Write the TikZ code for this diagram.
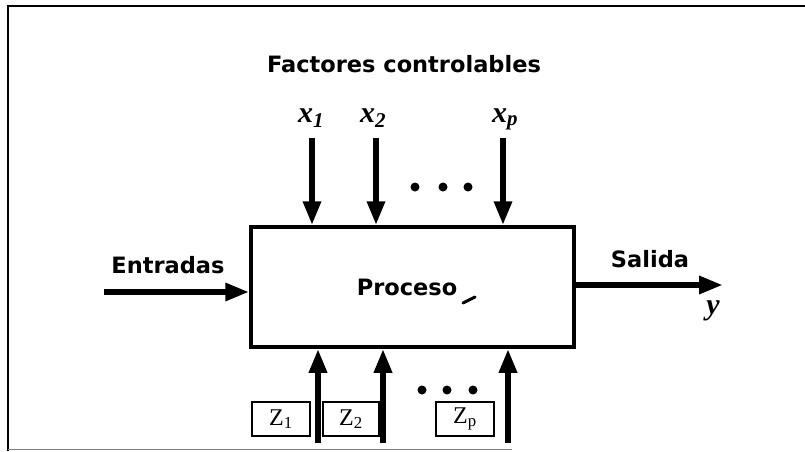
\documentclass[tikz,border=0pt]{standalone}
\usepackage{fontspec}
\setmainfont{DejaVu Sans}
\newfontfamily\zfont{Liberation Serif}
\usetikzlibrary{arrows.meta}
\begin{document}
\begin{tikzpicture}[x=1pt,y=-1pt,
  lbl/.style={font=\bfseries\fontsize{22.5}{26}\selectfont, inner sep=0pt},
  var/.style={font=\zfont\bfseries\itshape\fontsize{30}{32}\selectfont, inner sep=0pt},
  flow/.style={line width=6pt, -{Triangle[length=24pt,width=17pt]}},
  zbox/.style={draw, line width=1.3pt, minimum width=58pt, minimum height=34pt, inner sep=0pt, font=\zfont\fontsize{24}{26}\selectfont},
  dotc/.style={circle, fill, inner sep=0pt, minimum size=9pt}]
\useasboundingbox (0,0) rectangle (805,451);
% frame
\draw[line width=2pt] (8,451) -- (8,6) -- (805,6);
\draw[gray, line width=1pt] (8,449) -- (512,449);
% process box
\node[draw, line width=3.5pt, minimum width=323pt, minimum height=120pt, inner sep=0pt] (proc) at (412.5,287) {};
\node[lbl, anchor=base] (ptext) at (407,295) {Proceso};
\draw[line width=3pt, line cap=round] (463,303) -- (475,297);
% title
\node[lbl, anchor=base] (title) at (404,72) {Factores controlables};
% top inputs
\node[var, anchor=base] (lx1) at (311,122) {x\textsubscript{1}};
\node[var, anchor=base] (lx2) at (373,122) {x\textsubscript{2}};
\node[var, anchor=base] (lxp) at (505,122) {x\textsubscript{p}};
\coordinate (t1) at (312,138);
\coordinate (t2) at (376,138);
\coordinate (tp) at (503,138);
\draw[flow] (t1) -- (t1 |- proc.north);
\draw[flow] (t2) -- (t2 |- proc.north);
\draw[flow] (tp) -- (tp |- proc.north);
\node[dotc] (td1) at (415,187) {};
\node[dotc] (td2) at (443,187) {};
\node[dotc] (td3) at (468,187) {};
% input / output
\node[lbl, anchor=base] (ent) at (168,273) {Entradas};
\coordinate (ein) at (104,292);
\draw[flow] (ein) -- (ein -| proc.west);
\node[lbl, anchor=base] (sal) at (650,267) {Salida};
\coordinate (sout) at (723,285);
\draw[flow] (proc.east |- sout) -- (sout);
\node[var, anchor=base] (ly) at (713,314) {y};
% noise factors
\coordinate (b1) at (318,443);
\coordinate (b2) at (383,443);
\coordinate (bp) at (508,443);
\draw[flow] (b1) -- (b1 |- proc.south);
\draw[flow] (b2) -- (b2 |- proc.south);
\draw[flow] (bp) -- (bp |- proc.south);
\node[dotc] (bd1) at (422,390) {};
\node[dotc] (bd2) at (447,390) {};
\node[dotc] (bd3) at (473,390) {};
\node[zbox] (z1) at (281,419) {Z\textsubscript{1}};
\node[zbox, minimum width=56pt] (z2) at (351,419) {Z\textsubscript{2}};
\node[zbox] (zp) at (465,419) {Z\textsubscript{p}};
\end{tikzpicture}
\end{document}
